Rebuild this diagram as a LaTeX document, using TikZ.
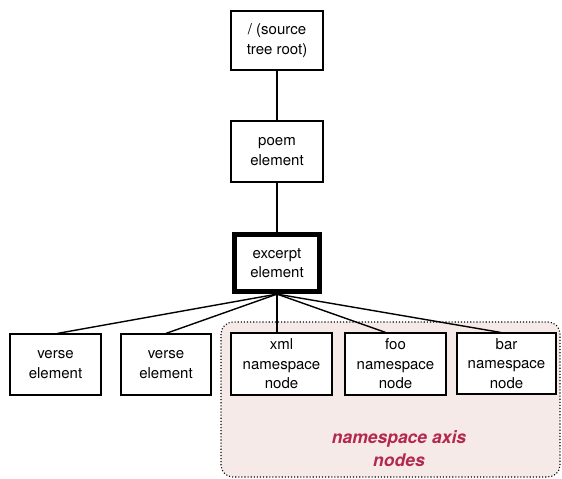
\documentclass[tikz,border=0pt]{standalone}
\usepackage{fontspec}
\setmainfont{TeX Gyre Heros}
\usetikzlibrary{calc}

\definecolor{regionfill}{RGB}{246,234,233}
\definecolor{regiontext}{RGB}{180,40,78}

\tikzset{
    treebox/.style={draw, line width=1.2pt, fill=white, align=center,
        inner sep=0pt, font=\fontsize{15}{19.5}\selectfont},
    edge/.style={line width=1.4pt},
}

\begin{document}
\begin{tikzpicture}[x=1pt,y=-1pt]
    \useasboundingbox (0,0) rectangle (562,479);
    % daerah sumbu namespace
    \draw[fill=regionfill, dotted, line width=1.1pt, rounded corners=12pt]
        (221,322) rectangle (560,477);
    \node[font=\fontsize{17.5}{23}\selectfont\bfseries\itshape, text=regiontext, align=center]
        (axislabel) at (399,449) {namespace axis\\nodes};

    % simpul-simpul atas
    \node[treebox, minimum width=92pt, minimum height=59pt] (root) at (277,40.5) {/ (source\\tree root)};
    \node[treebox, minimum width=92pt, minimum height=61pt] (poem) at (277,151.5) {poem\\element};
    \node[treebox, line width=5.2pt, minimum width=85pt, minimum height=57pt] (excerpt) at (277,263) {excerpt\\element};

    % simpul-simpul bawah
    \node[treebox, minimum width=91pt, minimum height=61pt] (verseA) at (55.5,364.5) {verse\\element};
    \node[treebox, minimum width=90pt, minimum height=61pt] (verseB) at (166,364.5) {verse\\element};
    \node[treebox, minimum width=101pt, minimum height=62pt] (xml) at (281.5,364) {xml\\namespace\\node};
    \node[treebox, minimum width=101pt, minimum height=62pt] (foo) at (395.5,364) {foo\\namespace\\node};
    \node[treebox, minimum width=99pt, minimum height=61pt] (bar) at (506.5,363.5) {bar\\namespace\\node};

    % garis-garis pohon
    \draw[edge] (root) -- (poem);
    \draw[edge] (poem) -- (excerpt);
    \draw[edge] (excerpt.south) -- ($(verseA.north)+(2,0)$);
    \draw[edge] (excerpt.south) -- (verseB.north);
    \draw[edge] (excerpt.south) -- (excerpt.south |- xml.north);
    \draw[edge] (excerpt.south) -- ($(foo.north)+(-10,0)$);
    \draw[edge] (excerpt.south) -- ($(bar.north)+(-6,0)$);
\end{tikzpicture}
\end{document}
